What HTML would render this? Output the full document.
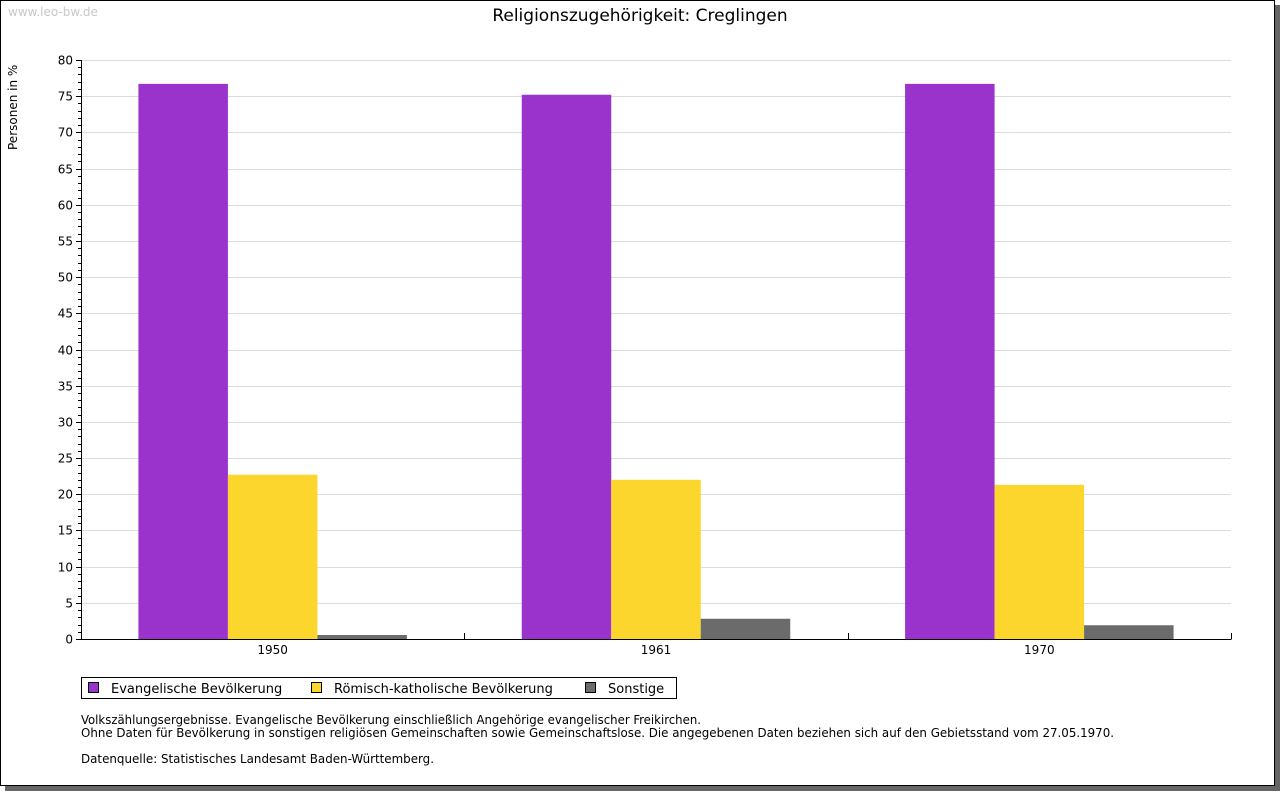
<!DOCTYPE html>
<html><head><meta charset="utf-8"><style>
body{margin:0;width:1280px;height:791px;background:#fff;overflow:hidden}
svg{display:block;font-family:"DejaVu Sans","Liberation Sans",sans-serif}
</style></head><body>
<svg id="chart" width="1280" height="791">
<rect x="5" y="5" width="1275" height="786" fill="#666"/>
<rect x="0.5" y="0.5" width="1274" height="785" fill="#fff" stroke="#000"/>
<text x="8" y="16" font-size="12" fill="#c8c8c8">www.leo-bw.de</text>
<text x="640" y="21" font-size="17" text-anchor="middle" fill="#000">Religionszugehörigkeit: Creglingen</text>
<text transform="translate(17,150) rotate(-90)" font-size="12">Personen in %</text>
<g id="grid"></g><g id="bars"></g><g id="axes"></g>
<rect x="81.5" y="677.5" width="595" height="21" fill="#fff" stroke="#000"/>
<g><rect x="88.5" y="682.5" width="10" height="10" fill="#9933cc" stroke="#000"/><text x="111" y="693" font-size="13">Evangelische Bevölkerung</text></g>
<g><rect x="311.5" y="682.5" width="10" height="10" fill="#fcd62c" stroke="#000"/><text x="334" y="693" font-size="13">Römisch-katholische Bevölkerung</text></g>
<g><rect x="585.5" y="682.5" width="10" height="10" fill="#6b6b6b" stroke="#000"/><text x="608" y="693" font-size="13">Sonstige</text></g>
<g font-size="12" font-family="'DejaVu Sans Condensed','DejaVu Sans',sans-serif">
<text x="81" y="724" textLength="620" lengthAdjust="spacingAndGlyphs">Volkszählungsergebnisse. Evangelische Bevölkerung einschließlich Angehörige evangelischer Freikirchen.</text>
<text x="81" y="737" textLength="1033" lengthAdjust="spacingAndGlyphs">Ohne Daten für Bevölkerung in sonstigen religiösen Gemeinschaften sowie Gemeinschaftslose. Die angegebenen Daten beziehen sich auf den Gebietsstand vom 27.05.1970.</text>
<text x="81" y="763" textLength="353" lengthAdjust="spacingAndGlyphs">Datenquelle: Statistisches Landesamt Baden-Württemberg.</text>
</g>
</svg>
<script>
const categories=["1950","1961","1970"];
const evangelisch=[76.7,75.2,76.7];
const katholisch=[22.7,22.0,21.3];
const sonstige=[0.55,2.8,1.9];
const yTicks=[0,5,10,15,20,25,30,35,40,45,50,55,60,65,70,75,80];
const NS="http://www.w3.org/2000/svg";
const X0=81,X1=1231,Y0=639,Y1=60,YMAX=80;
const y=v=>Y0-(v/YMAX)*(Y0-Y1);
const catW=(X1-X0)/categories.length;
const bw=89.5;
function mk(tag,attrs,parent){const e=document.createElementNS(NS,tag);for(const k in attrs)e.setAttribute(k,attrs[k]);document.getElementById(parent).appendChild(e);return e;}
yTicks.forEach(t=>{
  const yy=Math.round(y(t))+0.5;
  if(t>0){const g=mk('line',{x1:X0,x2:X1,y1:yy,y2:yy,stroke:'#dcdcdc'},'grid');
  
  }
  const tk=mk('line',{x1:X0-5,x2:X0,y1:yy,y2:yy,stroke:'#000'},'axes');
  
  
  const lb=mk('text',{x:X0-8,y:yy+4,'font-size':12,'text-anchor':'end'},'axes');
  lb.textContent=t;
  
  
});
for(let v=1;v<YMAX;v++){if(v%5===0)continue;const yy=Math.round(y(v))+0.5;
  const m=mk('line',{x1:X0-3,x2:X0,y1:yy,y2:yy,stroke:'#000'},'axes');
  
  }
const series=[[evangelisch,'#9933cc','evangelisch'],[katholisch,'#fcd62c','katholisch'],[sonstige,'#6b6b6b','sonstige']];
categories.forEach((c,i)=>{
  const start=X0+i*catW+(catW-3*bw)/2;
  series.forEach((s,j)=>{
    const top=y(s[0][i]);
    const r=mk('rect',{x:start+j*bw,y:top,width:bw,height:Y0-top,fill:s[1]},'bars');
    
    
  });
  const lb=mk('text',{x:X0+(i+0.5)*catW,y:654,'font-size':12,'text-anchor':'middle'},'axes');
  lb.textContent=c;
  
  
  const tx=Math.round(X0+(i+1)*catW)+0.5;
  const tk=mk('line',{x1:tx,x2:tx,y1:Y0-6,y2:Y0,stroke:'#000'},'axes');
  
  
});
const ya=mk('line',{x1:X0+0.5,x2:X0+0.5,y1:Y1,y2:Y0+0.5,stroke:'#000'},'axes');


const xa=mk('line',{x1:X0,x2:X1+0.5,y1:Y0+0.5,y2:Y0+0.5,stroke:'#000'},'axes');


</script>
</body></html>
